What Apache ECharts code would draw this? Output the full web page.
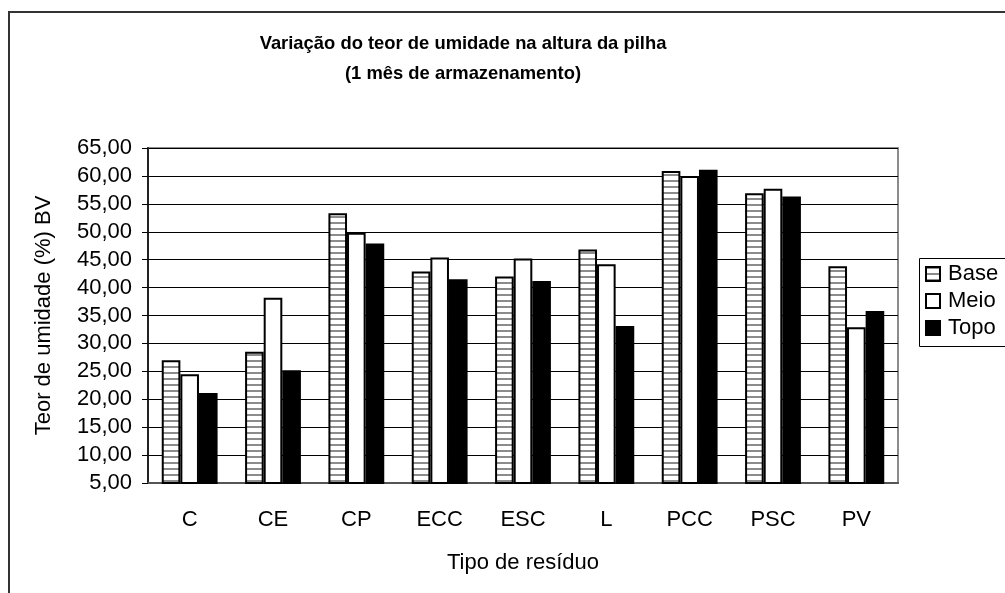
<!DOCTYPE html>
<html>
<head>
    <meta charset="utf-8">
    <title>Variação do teor de umidade</title>
    <script src="https://cdn.jsdelivr.net/npm/echarts@6.0.0/dist/echarts.min.js"></script>
    <style>
        html, body { margin: 0; padding: 0; background: #fff; }
        #main { width: 1005px; height: 593px; }
    </style>
</head>
<body>
    <div id="main"></div>
    <script>
        var categories = ['C', 'CE', 'CP', 'ECC', 'ESC', 'L', 'PCC', 'PSC', 'PV'];
        var base = [27.0, 28.5, 53.3, 42.9, 42.0, 46.8, 60.9, 56.9, 43.8];
        var meio = [24.5, 38.2, 49.8, 45.4, 45.2, 44.2, 60.0, 57.7, 32.9];
        var topo = [21.1, 25.2, 47.9, 41.5, 41.2, 33.1, 61.1, 56.3, 35.8];

        // striped fill for "Base"
        var stripe = document.createElement('canvas');
        stripe.width = 6;
        stripe.height = 6;
        var ctx = stripe.getContext('2d');
        ctx.fillStyle = '#fff';
        ctx.fillRect(0, 0, 6, 6);
        ctx.fillStyle = '#8c8c8c';
        ctx.fillRect(0, 0, 6, 2);

        var font = 'Liberation Sans, Arial, sans-serif';
        var myChart = echarts.init(document.getElementById('main'));

        var option = {
            animation: false,
            backgroundColor: '#fff',
            title: {
                text: 'Variação do teor de umidade na altura da pilha\n(1 mês de armazenamento)',
                left: 458,
                top: 24,
                textAlign: 'center',
                textStyle: {
                    fontFamily: font,
                    fontSize: 18.4,
                    fontWeight: 'bold',
                    color: '#000',
                    lineHeight: 30
                }
            },
            graphic: [{
                type: 'rect',
                shape: { x: 9, y: 12, width: 1100, height: 700 },
                style: { fill: 'none', stroke: '#333', lineWidth: 2 },
                silent: true
            }, {
                // legend frame runs off the right edge, as in the original
                type: 'rect',
                shape: { x: 919.5, y: 258.5, width: 120, height: 88 },
                style: { fill: 'none', stroke: '#000', lineWidth: 1 },
                silent: true
            }],
            legend: {
                orient: 'vertical',
                left: 919,
                top: 258,
                itemWidth: 14,
                itemHeight: 14,
                itemGap: 5,
                padding: [5, 10, 6, 6],
                icon: 'rect',
                textStyle: { fontFamily: font, fontSize: 22, color: '#000', padding: [0, 0, 0, 3] },
                itemStyle: { borderColor: '#000', borderWidth: 2 },
                data: ['Base', 'Meio', 'Topo']
            },
            grid: {
                left: 148,
                top: 148,
                right: 107,
                bottom: 110,
                show: true,
                borderColor: '#8c8c8c',
                borderWidth: 2
            },
            xAxis: {
                type: 'category',
                data: categories,
                name: 'Tipo de resíduo',
                nameLocation: 'middle',
                nameGap: 69,
                nameTextStyle: { fontFamily: font, fontSize: 22, color: '#000' },
                axisLine: { lineStyle: { color: '#555', width: 2 } },
                axisTick: { length: 6, lineStyle: { color: '#000' } },
                axisLabel: { fontFamily: font, fontSize: 22, color: '#000', margin: 26 }
            },
            yAxis: {
                type: 'value',
                min: 5,
                max: 65,
                interval: 5,
                name: 'Teor de umidade (%) BV',
                nameLocation: 'middle',
                nameGap: 93,
                nameRotate: 90,
                nameTextStyle: { fontFamily: font, fontSize: 22, color: '#000' },
                axisLine: { show: true, lineStyle: { color: '#222', width: 2 } },
                axisTick: { show: true, length: 6, lineStyle: { color: '#000' } },
                axisLabel: {
                    fontFamily: font,
                    fontSize: 22,
                    color: '#000',
                    margin: 16,
                    formatter: function (v) { return v.toFixed(2).replace('.', ','); }
                },
                splitLine: { lineStyle: { color: '#000', width: 1 } }
            },
            series: [{
                name: 'Base',
                type: 'bar',
                data: base,
                barGap: '0%',
                barCategoryGap: '33%',
                itemStyle: { color: { image: stripe, repeat: 'repeat' }, borderColor: '#000', borderWidth: 2 }
            }, {
                name: 'Meio',
                type: 'bar',
                data: meio,
                itemStyle: { color: '#fff', borderColor: '#000', borderWidth: 2 }
            }, {
                name: 'Topo',
                type: 'bar',
                data: topo,
                itemStyle: { color: '#000', borderColor: '#000', borderWidth: 2 }
            }]
        };

        myChart.setOption(option);
    </script>
</body>
</html>
